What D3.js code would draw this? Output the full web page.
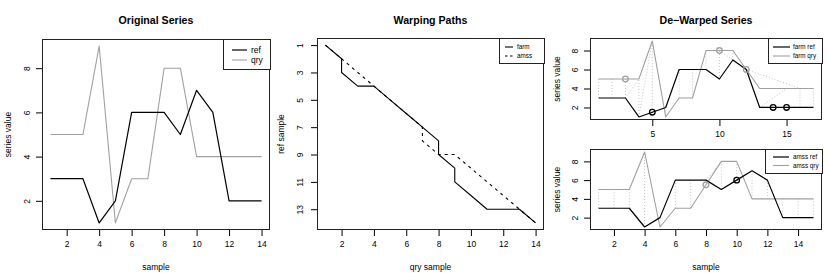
<!DOCTYPE html>
<html>
<head>
<meta charset="utf-8">
<script src="https://cdn.jsdelivr.net/npm/d3@7"></script>
<style>
body { margin: 0; background: #fff; }
svg text { font-family: "Liberation Sans", Arial, sans-serif; fill: #000; }
</style>
</head>
<body>
<svg id="chart" width="830" height="273"></svg>
<script>
// original series
var samples = [1, 2, 3, 4, 5, 6, 7, 8, 9, 10, 11, 12, 13, 14];
var refSeries = [3, 3, 3, 1, 2, 6, 6, 6, 5, 7, 6, 2, 2, 2];
var qrySeries = [5, 5, 5, 9, 1, 3, 3, 8, 8, 4, 4, 4, 4, 4];

// warping paths (qry index, ref index)
var farmPathQry = [1, 2, 2, 3, 4, 5, 6, 7, 8, 8, 9, 9, 10, 11, 12, 13, 14];
var farmPathRef = [1, 2, 3, 4, 4, 5, 6, 7, 8, 9, 10, 11, 12, 13, 13, 13, 14];
var amssPathQry = [1, 2, 3, 4, 5, 6, 7, 7, 8, 9, 10, 11, 12, 13, 14];
var amssPathRef = [1, 2, 3, 4, 5, 6, 7, 8, 9, 9, 10, 11, 12, 13, 14];

// de-warped series
var farmPos = [1, 2, 3, 4, 5, 6, 7, 8, 9, 10, 11, 12, 13, 14, 15, 16, 17];
var farmRef = [3, 3, 3, 1, 1.5, 2, 6, 6, 6, 5, 7, 6, 2, 2, 2, 2, 2];
var farmQry = [5, 5, 5, 5, 9, 1, 3, 3, 8, 8, 8, 6, 4, 4, 4, 4, 4];
var farmRefMarkPos = [5, 14, 15];
var farmRefMarkVal = [1.5, 2, 2];
var farmQryMarkPos = [3, 10, 12];
var farmQryMarkVal = [5, 8, 6];
var farmLinks = [[1, 3, 1, 5], [2, 3, 2, 5], [3, 3, 3, 5], [3, 3, 4, 5], [4, 1, 4, 5],
  [4, 1, 5, 9], [5, 1.5, 5, 9], [6, 2, 6, 1], [7, 6, 7, 3], [8, 6, 8, 3], [9, 6, 9, 8],
  [10, 5, 10, 8], [10, 8, 11, 7], [11, 7, 11, 8], [12, 6, 16, 4], [13, 2, 15, 4],
  [16, 2, 16, 4], [17, 2, 17, 4]];

var amssPos = [1, 2, 3, 4, 5, 6, 7, 8, 9, 10, 11, 12, 13, 14, 15];
var amssRef = [3, 3, 3, 1, 2, 6, 6, 6, 5, 6, 7, 6, 2, 2, 2];
var amssQry = [5, 5, 5, 9, 1, 3, 3, 5.5, 8, 8, 4, 4, 4, 4, 4];
var amssRefMarkPos = [10];
var amssRefMarkVal = [6];
var amssQryMarkPos = [8];
var amssQryMarkVal = [5.5];
var amssLinks = [[1, 3, 1, 5], [2, 3, 2, 5], [3, 3, 3, 5], [4, 1, 4, 9], [5, 2, 5, 1],
  [6, 6, 6, 3], [7, 6, 7, 3], [8, 6, 9, 8], [9, 5, 9, 8], [10, 6, 10, 8],
  [11, 7, 11, 4], [12, 6, 12, 4], [13, 2, 13, 4], [14, 2, 14, 4], [15, 2, 15, 4]];

// tick labels
var ticksEven = [2, 4, 6, 8, 10, 12, 14];
var ticksValue = [2, 4, 6, 8];
var ticksOdd = [1, 3, 5, 7, 9, 11, 13];
var ticksFive = [5, 10, 15];

var black = "#000";
var grey = "#a0a0a0";
var linkGrey = "#c4c4c4";

var svg = d3.select("#chart");
svg.append("rect").attr("width", 830).attr("height", 273).attr("fill", "#fff");

// R style: 4% padding around the data range
function padded(ext, flip) {
  var pad = (ext[1] - ext[0]) * 0.04;
  var d = [ext[0] - pad, ext[1] + pad];
  return flip ? [d[1], d[0]] : d;
}

function makePanel(box, xExt, yExt, xTicks, yTicks, flipY, yLabGap) {
  var x = d3.scaleLinear().domain(padded(xExt)).range([box.left, box.right]);
  var y = d3.scaleLinear().domain(padded(yExt, flipY)).range([box.bottom, box.top]);

  var xa = svg.append("g")
    .attr("transform", `translate(0, ${box.bottom})`)
    .call(d3.axisBottom(x).tickValues(xTicks).tickSize(6).tickFormat(d3.format("d")))
    .attr("font-family", null).attr("font-size", 8.5);
  xa.select(".domain").remove();
  xa.selectAll("text").attr("y", 11).attr("dy", "0.71em");

  var ya = svg.append("g")
    .attr("transform", `translate(${box.left}, 0)`)
    .call(d3.axisLeft(y).tickValues(yTicks).tickSize(6).tickFormat(d3.format("d")))
    .attr("font-family", null).attr("font-size", 8.5);
  ya.select(".domain").remove();
  ya.selectAll("text")
    .attr("transform", "rotate(-90)")
    .attr("x", 0).attr("y", -yLabGap).attr("dy", 0)
    .attr("text-anchor", "middle");

  return { x: x, y: y, box: box };
}

function drawBox(p) {
  svg.append("rect")
    .attr("x", p.box.left + 0.5).attr("y", p.box.top + 0.5)
    .attr("width", p.box.right - p.box.left - 1).attr("height", p.box.bottom - p.box.top - 1)
    .attr("fill", "none").attr("stroke", "#222").attr("stroke-width", 1);
}

function drawLine(p, xs, ys, color, width, dash) {
  var line = d3.line().x(d => p.x(d[0])).y(d => p.y(d[1]));
  svg.append("path")
    .datum(d3.zip(xs, ys))
    .attr("d", line)
    .attr("fill", "none")
    .attr("stroke", color)
    .attr("stroke-width", width)
    .attr("stroke-dasharray", dash || null)
    .attr("stroke-linejoin", "round");
}

function drawLinks(p, links) {
  svg.append("g").selectAll("line")
    .data(links).enter().append("line")
    .attr("x1", d => p.x(d[0])).attr("y1", d => p.y(d[1]))
    .attr("x2", d => p.x(d[2])).attr("y2", d => p.y(d[3]))
    .attr("stroke", linkGrey).attr("stroke-width", 1)
    .attr("stroke-dasharray", "1,2");
}

function drawMarks(p, xs, ys, color) {
  svg.append("g").selectAll("circle")
    .data(d3.zip(xs, ys)).enter().append("circle")
    .attr("cx", d => p.x(d[0])).attr("cy", d => p.y(d[1]))
    .attr("r", 2.8)
    .attr("fill", "none").attr("stroke", color).attr("stroke-width", 1.3);
}

function title(text, cx) {
  svg.append("text").attr("x", cx).attr("y", 24)
    .attr("text-anchor", "middle").attr("font-weight", "bold").attr("font-size", 10.6)
    .text(text);
}

function xTitle(text, cx, cy) {
  svg.append("text").attr("x", cx).attr("y", cy).attr("dy", "0.35em")
    .attr("text-anchor", "middle").attr("font-size", 8.5).text(text);
}

function yTitle(text, cx, cy) {
  svg.append("text").attr("transform", `translate(${cx}, ${cy}) rotate(-90)`)
    .attr("dy", "0.35em").attr("text-anchor", "middle").attr("font-size", 8.5).text(text);
}

function legend(lg, items) {
  svg.append("rect")
    .attr("x", lg.left + 0.5).attr("y", lg.top + 0.5)
    .attr("width", lg.right - lg.left).attr("height", lg.bottom - lg.top)
    .attr("fill", "#fff").attr("stroke", "#222").attr("stroke-width", 1);
  items.forEach(function (it, i) {
    var yy = lg.firstY + i * lg.step;
    svg.append("line")
      .attr("x1", lg.lineX0).attr("x2", lg.lineX1).attr("y1", yy).attr("y2", yy)
      .attr("stroke", it.color).attr("stroke-width", it.width)
      .attr("stroke-dasharray", it.dash || null);
    svg.append("text").attr("x", lg.textX).attr("y", yy).attr("dy", "0.35em")
      .attr("font-size", lg.size).text(it.label);
  });
}

// ---- Original Series
var p1 = makePanel({ left: 42, top: 39, right: 270, bottom: 230 },
  d3.extent(samples), d3.extent(refSeries.concat(qrySeries)), ticksEven, ticksValue, false, 12);
drawLine(p1, samples, qrySeries, grey, 1.1);
drawLine(p1, samples, refSeries, black, 1.2);
drawBox(p1);
title("Original Series", 156);
xTitle("sample", 156, 267);
yTitle("series value", 8, 134.5);
legend({ left: 223, top: 39, right: 270, bottom: 69, firstY: 50, step: 10,
  lineX0: 232, lineX1: 247, textX: 251, size: 8.5 }, [
  { label: "ref", color: black, width: 1.2 },
  { label: "qry", color: grey, width: 1.1 }
]);

// ---- Warping Paths
var p2 = makePanel({ left: 317, top: 38, right: 544, bottom: 230 },
  d3.extent(farmPathQry), d3.extent(farmPathRef), ticksEven, ticksOdd, true, 14);
drawLine(p2, amssPathQry, amssPathRef, black, 1.1, "3,4");
drawLine(p2, farmPathQry, farmPathRef, black, 1.1);
drawBox(p2);
title("Warping Paths", 430.5);
xTitle("qry sample", 430.5, 267);
yTitle("ref sample", 281, 134);
legend({ left: 499, top: 38, right: 544, bottom: 63, firstY: 47, step: 9,
  lineX0: 505, lineX1: 513, textX: 517, size: 6.3 }, [
  { label: "farm", color: black, width: 1.1 },
  { label: "amss", color: black, width: 1.1, dash: "2.5,2.5" }
]);

// ---- De-Warped Series (farm)
var p3 = makePanel({ left: 590, top: 38, right: 822, bottom: 120 },
  d3.extent(farmPos), d3.extent(farmRef.concat(farmQry)), ticksFive, ticksValue, false, 12);
drawLinks(p3, farmLinks);
drawLine(p3, farmPos, farmQry, grey, 1.1);
drawLine(p3, farmPos, farmRef, black, 1.2);
drawMarks(p3, farmQryMarkPos, farmQryMarkVal, grey);
drawMarks(p3, farmRefMarkPos, farmRefMarkVal, black);
drawBox(p3);
title("De\u2212Warped Series", 706);
yTitle("series value", 557, 79);
legend({ left: 768, top: 38, right: 822, bottom: 63, firstY: 47, step: 9,
  lineX0: 773, lineX1: 790, textX: 793, size: 6.3 }, [
  { label: "farm ref", color: black, width: 1.2 },
  { label: "farm qry", color: grey, width: 1.1 }
]);

// ---- De-Warped Series (amss)
var p4 = makePanel({ left: 590, top: 149, right: 822, bottom: 230 },
  d3.extent(amssPos), d3.extent(amssRef.concat(amssQry)), ticksEven, ticksValue, false, 12);
drawLinks(p4, amssLinks);
drawLine(p4, amssPos, amssQry, grey, 1.1);
drawLine(p4, amssPos, amssRef, black, 1.2);
drawMarks(p4, amssQryMarkPos, amssQryMarkVal, grey);
drawMarks(p4, amssRefMarkPos, amssRefMarkVal, black);
drawBox(p4);
xTitle("sample", 706, 267);
yTitle("series value", 557, 189.5);
legend({ left: 765, top: 149, right: 822, bottom: 173, firstY: 157, step: 8.5,
  lineX0: 773, lineX1: 789, textX: 793, size: 6.3 }, [
  { label: "amss ref", color: black, width: 1.2 },
  { label: "amss qry", color: grey, width: 1.1 }
]);
</script>
</body>
</html>
